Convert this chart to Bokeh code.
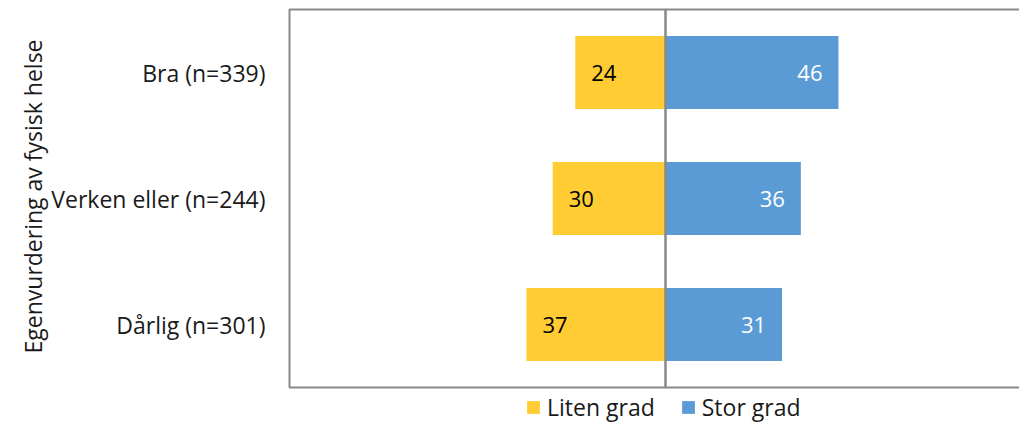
from bokeh.plotting import figure
from bokeh.models import Range1d, Legend, LegendItem, ColumnDataSource, FixedTicker, BoxAnnotation, Title
from bokeh.core.properties import value
from bokeh.embed import file_html
from bokeh.resources import INLINE

categories = ["Bra (n=339)", "Verken eller (n=244)", "Dårlig (n=301)"]
liten_grad = [24, 30, 37]
stor_grad = [46, 36, 31]
series_names = ["Liten grad", "Stor grad"]
axis_title = "Egenvurdering av fysisk helse"

FONT = "Open Sans"
FS = "23px"
FS_NUM = "22px"
YELLOW = "#FFCD33"
BLUE = "#5B9BD5"
GRAY = "#898989"

n = len(categories)
ypos = [n - 0.5 - i for i in range(n)]  # first category at top

src = ColumnDataSource(dict(
    y=ypos,
    lneg=[-v for v in liten_grad],
    lval=[str(v) for v in liten_grad],
    s=stor_grad,
    sval=[str(v) for v in stor_grad],
    zero=[0] * n,
))

PX_PER_CAT = 126.0
PX_PER_UNIT = 3.76
p = figure(width=1019, height=423, output_backend="svg", toolbar_location=None,
           y_range=Range1d(-36 / PX_PER_CAT, n + 2 / PX_PER_CAT),
           x_range=Range1d(-100 - 2 / PX_PER_UNIT, (1019 - 665) / PX_PER_UNIT),
           min_border_top=7, min_border_right=0, min_border_bottom=0,
           min_border_left=287)
p.outline_line_color = None
p.grid.visible = False
p.xaxis.visible = False
p.background_fill_color = "white"

r1 = p.hbar(y="y", left="lneg", right="zero", height=0.58, source=src,
            fill_color=YELLOW, line_color=None)
r2 = p.hbar(y="y", left="zero", right="s", height=0.58, source=src,
            fill_color=BLUE, line_color=None)

p.text(x="lneg", y="y", text="lval", source=src, x_offset=16,
       text_align="left", text_baseline="middle", text_color="#000000",
       text_font=value(FONT), text_font_size=FS_NUM)
p.text(x="s", y="y", text="sval", source=src, x_offset=-16,
       text_align="right", text_baseline="middle", text_color="#FFFFFF",
       text_font=value(FONT), text_font_size=FS_NUM)

# plot-area border (left, top, bottom) and centre line
for lo, hi in [(-100, 0), (0, 200)]:
    p.add_layout(BoxAnnotation(left=lo, right=hi, bottom=0, top=n,
                               fill_alpha=0, line_color=GRAY, line_width=2,
                               line_alpha=1))

# y axis with category labels
ya = p.yaxis[0]
ya.ticker = FixedTicker(ticks=ypos)
ya.major_label_overrides = {y: c for y, c in zip(ypos, categories)}
ya.axis_line_color = None
ya.major_tick_line_color = None
ya.minor_tick_line_color = None
ya.major_tick_out = 0
ya.major_tick_in = 0
ya.major_label_text_font = FONT
ya.major_label_text_font_size = FS
ya.major_label_text_color = "#1a1a1a"
ya.major_label_standoff = 22

# axis title, centred on the category area (not on the legend strip)
p.add_layout(Title(text=axis_title, align="left", offset=70,
                   text_font=FONT, text_font_size=FS, text_font_style="normal",
                   text_color="#1a1a1a", standoff=0), "left")

legend = Legend(items=[LegendItem(label=series_names[0], renderers=[r1]),
                       LegendItem(label=series_names[1], renderers=[r2])],
                orientation="horizontal", location=(238, 0),
                border_line_color=None, background_fill_alpha=0,
                label_text_font=FONT, label_text_font_size=FS,
                label_text_color="#1a1a1a",
                glyph_width=16, glyph_height=16, label_standoff=6,
                spacing=25, padding=0, margin=0)
p.add_layout(legend, "center")

open("out.html", "w").write(file_html(p, INLINE))
